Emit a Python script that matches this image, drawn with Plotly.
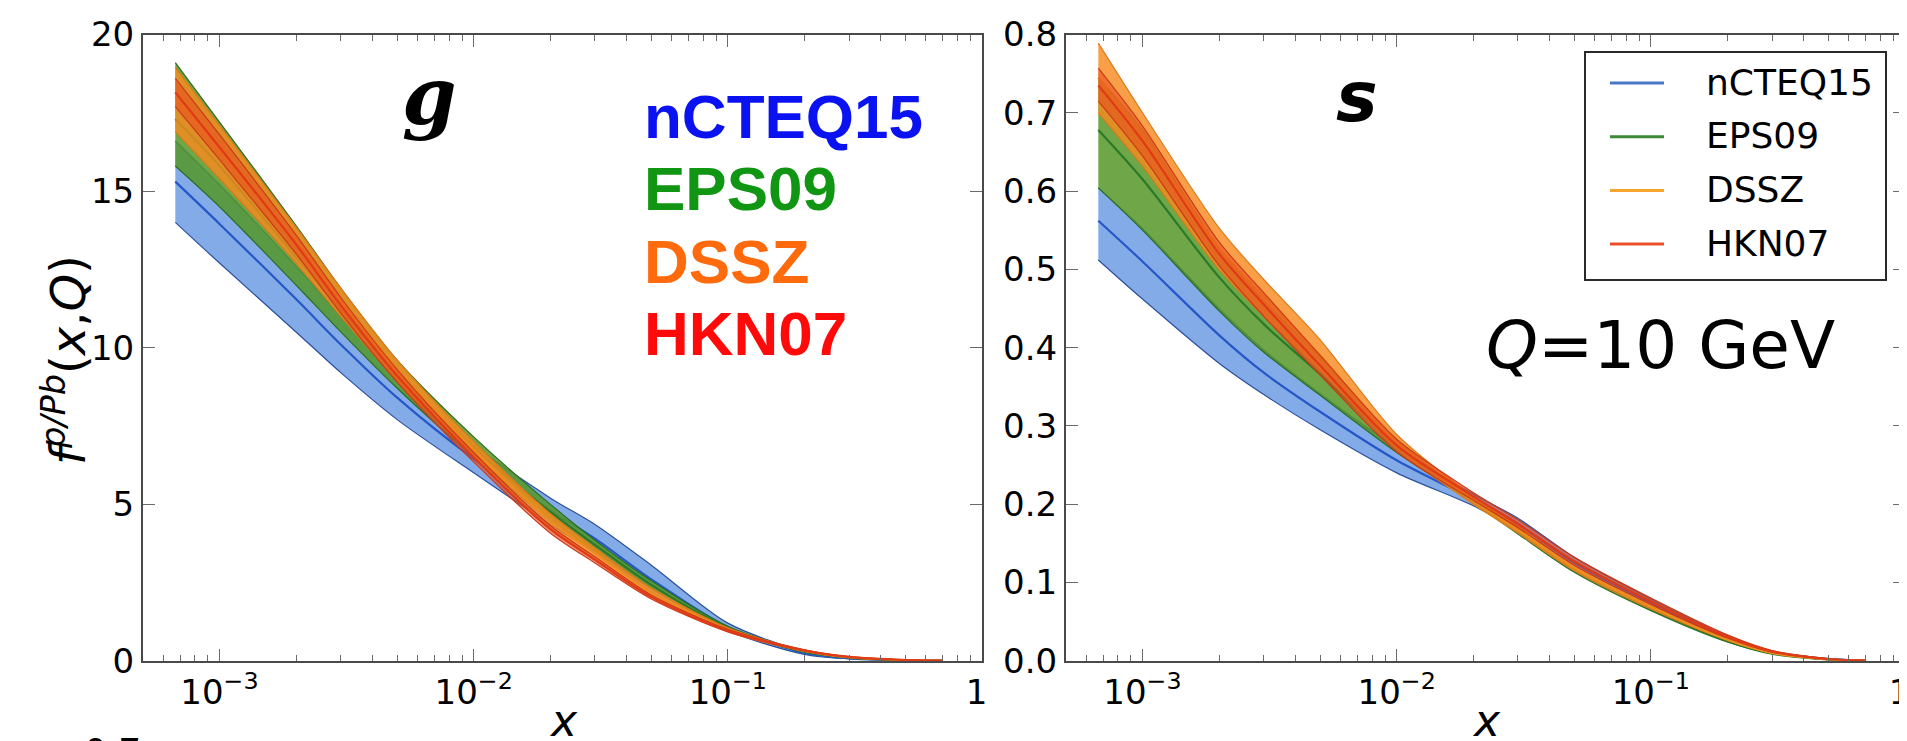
import plotly.graph_objects as go

W, H = 1907, 741

# ---------------- data ----------------
x_nodes = [6.7e-4, 1e-3, 2e-3, 3e-3, 5e-3, 1e-2, 2e-2, 3e-2, 5e-2, 0.1, 0.2, 0.3, 0.5, 0.7]

sets = ["nCTEQ15", "EPS09", "DSSZ", "HKN07"]

# gluon (left panel): low / central / high
g_nCTEQ15_lo = [14.0, 12.7, 10.5, 9.2, 7.7, 6.0, 4.35, 3.45, 2.2, 0.95, 0.2, 0.06, 0.005, 0.0]
g_nCTEQ15_c = [15.3, 13.95, 11.55, 10.1, 8.4, 6.45, 4.8, 3.9, 2.6, 1.07, 0.25, 0.075, 0.008, 0.0]
g_nCTEQ15_hi = [16.6, 15.2, 12.6, 11.0, 9.1, 6.9, 5.2, 4.35, 3.05, 1.2, 0.3, 0.09, 0.01, 0.0]

g_EPS09_lo = [15.8, 14.5, 12.0, 10.5, 8.7, 6.5, 4.5, 3.5, 2.3, 1.0, 0.27, 0.09, 0.012, 0.0]
g_EPS09_c = [17.3, 15.8, 12.9, 11.2, 9.1, 6.8, 4.75, 3.7, 2.42, 1.05, 0.29, 0.1, 0.014, 0.0]
g_EPS09_hi = [19.1, 17.2, 13.9, 11.9, 9.6, 7.15, 5.0, 3.85, 2.55, 1.1, 0.31, 0.11, 0.016, 0.0]

g_DSSZ_lo = [16.9, 15.4, 12.7, 11.0, 8.95, 6.5, 4.25, 3.25, 2.05, 0.93, 0.3, 0.1, 0.015, 0.0]
g_DSSZ_c = [18.0, 16.3, 13.35, 11.5, 9.3, 6.75, 4.48, 3.43, 2.18, 0.99, 0.32, 0.11, 0.017, 0.0]
g_DSSZ_hi = [18.95, 17.1, 13.85, 11.9, 9.6, 7.0, 4.7, 3.6, 2.32, 1.05, 0.34, 0.12, 0.02, 0.0]

g_HKN07_lo = [17.7, 16.0, 13.0, 11.1, 8.9, 6.35, 4.08, 3.12, 1.97, 0.92, 0.31, 0.11, 0.02, 0.0]
g_HKN07_c = [18.15, 16.4, 13.3, 11.35, 9.1, 6.5, 4.2, 3.22, 2.03, 0.96, 0.33, 0.12, 0.022, 0.0]
g_HKN07_hi = [18.6, 16.8, 13.6, 11.6, 9.3, 6.65, 4.32, 3.32, 2.1, 1.0, 0.35, 0.13, 0.025, 0.0]

# strange (right panel): low / central / high
s_nCTEQ15_lo = [0.512, 0.462, 0.38, 0.34, 0.295, 0.24, 0.198, 0.166, 0.118, 0.068, 0.026, 0.010, 0.002, 0.0]
s_nCTEQ15_c = [0.562, 0.51, 0.416, 0.368, 0.318, 0.256, 0.206, 0.174, 0.125, 0.074, 0.029, 0.011, 0.002, 0.0]
s_nCTEQ15_hi = [0.604, 0.552, 0.45, 0.397, 0.341, 0.272, 0.213, 0.182, 0.132, 0.079, 0.032, 0.012, 0.003, 0.0]

s_EPS09_lo = [0.604, 0.55, 0.447, 0.394, 0.339, 0.266, 0.202, 0.162, 0.113, 0.064, 0.024, 0.009, 0.0015, 0.0]
s_EPS09_c = [0.678, 0.615, 0.49, 0.43, 0.366, 0.274, 0.205, 0.165, 0.116, 0.066, 0.025, 0.009, 0.0015, 0.0]
s_EPS09_hi = [0.745, 0.678, 0.527, 0.46, 0.388, 0.281, 0.208, 0.168, 0.118, 0.068, 0.026, 0.0095, 0.0015, 0.0]

s_DSSZ_lo = [0.70, 0.632, 0.50, 0.44, 0.37, 0.27, 0.2, 0.163, 0.115, 0.066, 0.026, 0.0095, 0.0015, 0.0]
s_DSSZ_c = [0.745, 0.666, 0.527, 0.465, 0.39, 0.279, 0.205, 0.167, 0.118, 0.069, 0.027, 0.01, 0.0018, 0.0]
s_DSSZ_hi = [0.789, 0.70, 0.553, 0.487, 0.41, 0.289, 0.21, 0.172, 0.122, 0.072, 0.028, 0.0105, 0.002, 0.0]

s_HKN07_lo = [0.715, 0.645, 0.505, 0.44, 0.365, 0.267, 0.205, 0.17, 0.122, 0.072, 0.029, 0.011, 0.002, 0.0]
s_HKN07_c = [0.735, 0.664, 0.52, 0.455, 0.377, 0.275, 0.21, 0.175, 0.127, 0.076, 0.031, 0.012, 0.0022, 0.0]
s_HKN07_hi = [0.757, 0.683, 0.535, 0.47, 0.39, 0.283, 0.215, 0.18, 0.132, 0.080, 0.033, 0.013, 0.0025, 0.0]

x_tick_vals = [1e-3, 1e-2, 1e-1, 1]
x_tick_text = ["10<sup>−3</sup>", "10<sup>−2</sup>", "10<sup>−1</sup>", "1&nbsp;"]
g_tick_vals = [0, 5, 10, 15, 20]
s_tick_vals = [0.0, 0.1, 0.2, 0.3, 0.4, 0.5, 0.6, 0.7, 0.8]

# ---------------- styles ----------------
fill_col = {
    "nCTEQ15": "rgba(100,150,226,0.80)",
    "EPS09": "rgba(85,150,40,0.85)",
    "DSSZ": "rgba(246,138,30,0.82)",
    "HKN07": "rgba(232,72,28,0.55)",
}
edge_col = {"nCTEQ15": "#2b4f9c", "EPS09": "#2a6e22", "DSSZ": "#e07a18", "HKN07": "#cc3a18"}
cen_col = {"nCTEQ15": "#2557c8", "EPS09": "#2a7a28", "DSSZ": "#f08c1c", "HKN07": "#e03a16"}
legend_col = {"nCTEQ15": "#4a78c6", "EPS09": "#3b8a38", "DSSZ": "#f4a52e", "HKN07": "#e8502a"}
label_col = {"nCTEQ15": "#0a12f2", "EPS09": "#109612", "DSSZ": "#ff6a0c", "HKN07": "#ff0a0a"}

g_data = {
    "nCTEQ15": (g_nCTEQ15_lo, g_nCTEQ15_c, g_nCTEQ15_hi),
    "EPS09": (g_EPS09_lo, g_EPS09_c, g_EPS09_hi),
    "DSSZ": (g_DSSZ_lo, g_DSSZ_c, g_DSSZ_hi),
    "HKN07": (g_HKN07_lo, g_HKN07_c, g_HKN07_hi),
}
s_data = {
    "nCTEQ15": (s_nCTEQ15_lo, s_nCTEQ15_c, s_nCTEQ15_hi),
    "EPS09": (s_EPS09_lo, s_EPS09_c, s_EPS09_hi),
    "DSSZ": (s_DSSZ_lo, s_DSSZ_c, s_DSSZ_hi),
    "HKN07": (s_HKN07_lo, s_HKN07_c, s_HKN07_hi),
}

fig = go.Figure()


def add_band(name, lo, c, hi, xa, ya):
    common = dict(x=x_nodes, mode="lines", xaxis=xa, yaxis=ya, showlegend=False, hoverinfo="skip")
    fig.add_trace(go.Scatter(y=hi, line=dict(color=edge_col[name], width=1.2, shape="spline", smoothing=0.8), **common))
    fig.add_trace(go.Scatter(y=lo, fill="tonexty", fillcolor=fill_col[name],
                             line=dict(color=edge_col[name], width=1.2, shape="spline", smoothing=0.8), **common))
    fig.add_trace(go.Scatter(y=c, line=dict(color=cen_col[name], width=2.2, shape="spline", smoothing=0.8), **common))


for n in sets:
    add_band(n, *g_data[n], "x", "y")
for n in sets:
    add_band(n, *s_data[n], "x2", "y2")


def px(x):
    return x / W


def py(y):
    return 1 - y / H


ydom = [py(652.7), py(26.5)]
minor_vals = [k * 10 ** e for e in (-4, -3, -2, -1) for k in range(2, 10) if k * 10 ** e > 5e-4]

axis_common = dict(
    showline=True, linecolor="#4a4a4a", linewidth=2, mirror="ticks",
    ticks="inside", ticklen=12, tickwidth=1.2, tickcolor="#6a6a6a",
    showgrid=False, zeroline=False, automargin=False, ticklabeloverflow="allow",
    tickfont=dict(family="DejaVu Sans", size=34, color="black"),
)
xaxis_common = dict(
    type="log", range=[-3.30103, 0], tickmode="array", tickvals=x_tick_vals, ticktext=x_tick_text,
    minor=dict(tickmode="array", tickvals=minor_vals, ticks="inside", ticklen=6, tickcolor="#6a6a6a", tickwidth=1.2, showgrid=False),
    **axis_common,
)

fig.update_layout(
    width=W, height=H, autosize=False,
    margin=dict(l=0, r=0, t=0, b=0, pad=0),
    paper_bgcolor="white", plot_bgcolor="white",
    showlegend=False,
    xaxis=dict(domain=[px(135), px(974)], anchor="y", **xaxis_common),
    xaxis2=dict(domain=[px(1058), px(1897)], anchor="y2", **xaxis_common),
    yaxis=dict(domain=ydom, anchor="x", range=[0, 20], tickmode="array", tickvals=g_tick_vals, **axis_common),
    yaxis2=dict(domain=ydom, anchor="x2", range=[0, 0.8], tickmode="array", tickvals=s_tick_vals,
                tickformat=".1f", **axis_common),
)

ann = []


def text(t, x, y, size, family="DejaVu Sans", color="black", xanchor="center", yanchor="middle", angle=0):
    ann.append(dict(text=t, x=px(x), y=py(y), xref="paper", yref="paper", showarrow=False,
                    xanchor=xanchor, yanchor=yanchor, textangle=angle,
                    font=dict(family=family, size=size, color=color)))


# panel labels
text("<b><i>g</i></b>", 421, 88, 78, family="DejaVu Serif")
text("<b><i>s</i></b>", 1349, 89, 70)
# coloured set names
for n, yc in zip(sets, [109, 181, 253, 325]):
    text("<b>" + n + "</b>", 634, yc, 62, family="Liberation Sans", color=label_col[n], xanchor="left")
# Q label
text("<i>Q</i>=10 GeV", 1652, 337, 66)
# axis titles
text("<i>f</i><sup><i>p/Pb</i></sup>(<i>x</i>,<i>Q</i>)", 57, 352, 48, angle=-90)
for xc in (555, 1478):
    text("<i>x</i>", xc, 712, 44)
# clipped label from a panel below
text("0.7", 104.5, 721, 36, yanchor="top")

# manual legend (right panel)
shapes = [dict(type="rect", xref="paper", yref="paper", x0=px(1577), x1=px(1878), y0=py(272), y1=py(44),
               line=dict(color="#2a2a2a", width=2), fillcolor="white", layer="above")]
for i, n in enumerate(sets):
    yc = 75 + i * 53.7
    shapes.append(dict(type="line", xref="paper", yref="paper", x0=px(1602), x1=px(1656), y0=py(yc), y1=py(yc),
                       line=dict(color=legend_col[n], width=3), layer="above"))
    text(n, 1696, yc - 1, 36, xanchor="left")

fig.update_layout(annotations=ann, shapes=shapes)
fig.write_html("out.html")
